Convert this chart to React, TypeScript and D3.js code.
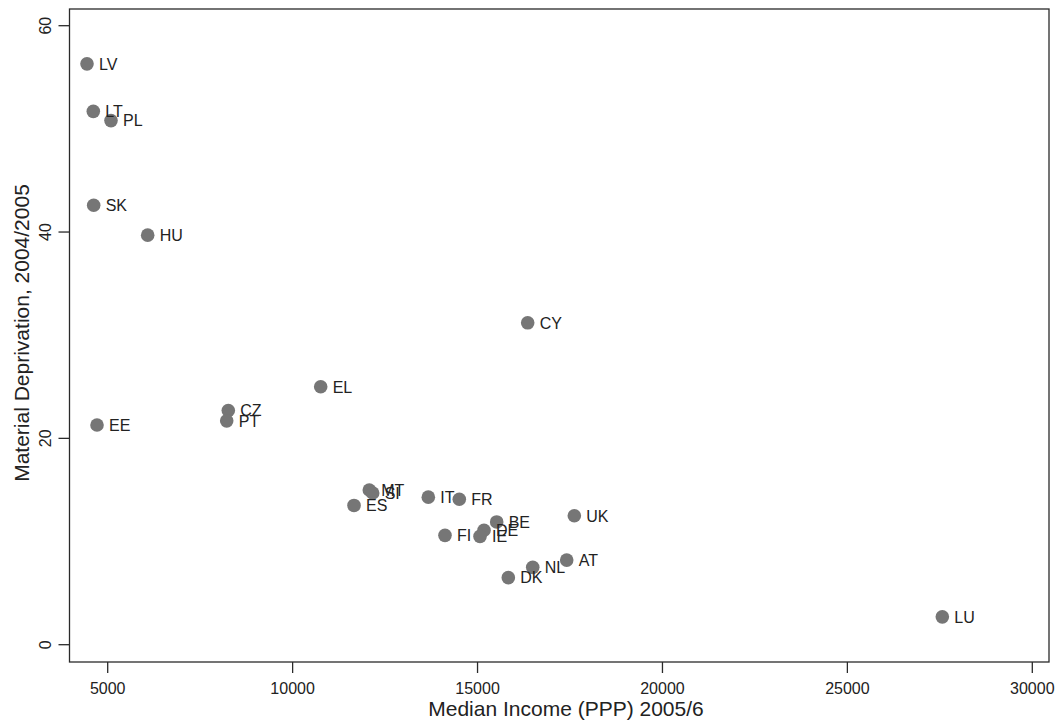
import React from "react";
import * as d3 from "d3";

const countries = ["LV","LT","PL","SK","HU","EE","CZ","PT","EL","MT","SI","ES","IT","FR","BE","DE","IE","FI","UK","AT","NL","DK","CY","LU"];
const income = [4440,4611,5089,4621,6081,4711,8261,8218,10759,12073,12165,11660,13669,14507,15518,15175,15067,14120,17617,17411,16492,15832,16356,27567];
const deprivation = [56.3,51.7,50.8,42.6,39.7,21.3,22.7,21.7,25.0,15.0,14.7,13.5,14.3,14.1,11.9,11.1,10.5,10.6,12.5,8.2,7.5,6.5,31.2,2.7];
const xTicks = [5000,10000,15000,20000,25000,30000];
const yTicks = [0,20,40,60];

const W = 1063, H = 724;
const frame = { left: 69.5, right: 1049, top: 9, bottom: 662 };

export default function App() {
  const x = d3.scaleLinear().domain([5000, 30000]).range([107.7, 1032.3]);
  const y = d3.scaleLinear().domain([0, 60]).range([644.7, 25.7]);
  const font = "Liberation Sans, Arial, Helvetica, sans-serif";
  const axisColor = "#2a2a2a";
  return (
    <svg width={W} height={H} style={{ position: "absolute", left: 0, top: 0, background: "#fff" }} fontFamily={font}>
      <rect x={0} y={0} width={W} height={H} fill="#fff" />
      <rect x={frame.left} y={frame.top} width={frame.right - frame.left} height={frame.bottom - frame.top} fill="none" stroke={axisColor} strokeWidth={1.3} />
      {xTicks.map((t) => (
        <g key={"x" + t}>
          <line x1={x(t)} x2={x(t)} y1={frame.bottom} y2={frame.bottom + 11} stroke={axisColor} strokeWidth={1.3} />
          <text x={x(t)} y={694} textAnchor="middle" fontSize={16} fill="#222">{t}</text>
        </g>
      ))}
      {yTicks.map((t) => (
        <g key={"y" + t}>
          <line x1={frame.left - 11} x2={frame.left} y1={y(t)} y2={y(t)} stroke={axisColor} strokeWidth={1.3} />
          <text transform={`translate(51,${y(t)}) rotate(-90)`} textAnchor="middle" fontSize={16} fill="#222">{t}</text>
        </g>
      ))}
      <text x={566} y={716} textAnchor="middle" fontSize={21} fill="#222">Median Income (PPP) 2005/6</text>
      <text transform={`translate(29,333) rotate(-90)`} textAnchor="middle" fontSize={21} fill="#222">Material Deprivation, 2004/2005</text>
      {countries.map((c, i) => (
        <circle key={"p" + c} cx={x(income[i])} cy={y(deprivation[i])} r={6.8} fill="#767676" />
      ))}
      {countries.map((c, i) => (
        <text key={"t" + c} x={x(income[i]) + 12} y={y(deprivation[i])} dy="0.36em" fontSize={16} fill="#222">{c}</text>
      ))}
    </svg>
  );
}
